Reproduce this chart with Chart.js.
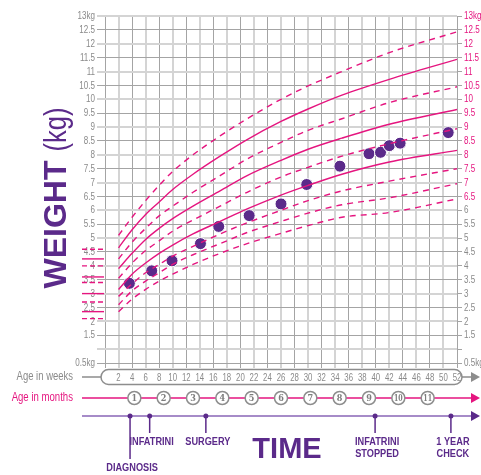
<!DOCTYPE html>
<html>
<head>
<meta charset="utf-8">
<script src="https://cdn.jsdelivr.net/npm/chart.js@4.4.0/dist/chart.umd.min.js"></script>
<style>
  html, body { margin: 0; padding: 0; background: #fff; }
  #wrap { width: 481px; height: 475px; }
</style>
</head>
<body>
<div id="wrap"><canvas id="growth-chart"></canvas></div>
<script>
// centile lines (kg), top line first
const centileWeeks = [2, 4, 6, 8, 10, 13, 17, 21, 26, 30, 35, 42, 52];
const centile1 = [5.1, 5.75, 6.35, 6.9, 7.4, 8.0, 8.68, 9.3, 10.0, 10.48, 11.0, 11.68, 12.43];
const centile2 = [4.65, 5.3, 5.85, 6.3, 6.75, 7.3, 7.95, 8.55, 9.2, 9.65, 10.15, 10.72, 11.44];
const centile3 = [4.25, 4.85, 5.35, 5.8, 6.15, 6.65, 7.25, 7.85, 8.45, 8.88, 9.3, 9.88, 10.45];
const centile4 = [3.9, 4.45, 4.95, 5.35, 5.7, 6.15, 6.7, 7.25, 7.8, 8.2, 8.6, 9.1, 9.63];
const centile5 = [3.55, 4.1, 4.55, 4.9, 5.25, 5.65, 6.15, 6.65, 7.2, 7.55, 7.95, 8.4, 8.94];
const centile6 = [3.15, 3.7, 4.1, 4.45, 4.75, 5.15, 5.6, 6.05, 6.55, 6.9, 7.3, 7.74, 8.16];
const centile7 = [2.9, 3.35, 3.75, 4.05, 4.35, 4.7, 5.15, 5.55, 6.0, 6.35, 6.7, 7.05, 7.5];
const centile8 = [2.6, 3.1, 3.45, 3.75, 4.05, 4.4, 4.8, 5.2, 5.6, 5.9, 6.2, 6.45, 6.96];
const centile9 = [2.35, 2.8, 3.15, 3.45, 3.7, 4.05, 4.45, 4.8, 5.17, 5.45, 5.75, 5.92, 6.41];
const centileDashed = [true, false, true, false, true, false, true, true, true];

// weighings
const measureWeeks = [3.6, 6.9, 9.9, 14.1, 16.8, 21.3, 26.0, 29.8, 34.7, 39.0, 40.7, 42.0, 43.6, 50.7];
const measureWeights = [3.37, 3.82, 4.18, 4.80, 5.42, 5.81, 6.23, 6.93, 7.59, 8.04, 8.09, 8.33, 8.42, 8.80];

// birth marks in the left margin (kg), and whether each is dashed
const birthWeights = [4.6, 4.25, 4.0, 3.6, 3.4, 3.0, 2.7, 2.35, 2.1];
const birthDashed = [true, false, true, false, true, false, true, false, true];

const monthLabels = ['1', '2', '3', '4', '5', '6', '7', '8', '9', '10', '11'];
const eventWeeks = [3.7, 6.6, 14.9, 39.9, 51.1];
const eventLabels = [['DIAGNOSIS'], ['INFATRINI'], ['SURGERY'], ['INFATRINI', 'STOPPED'], ['1 YEAR', 'CHECK']];

const PINK = '#e5157f';
const PURPLE = '#5b2a8a';
const LAVENDER = '#a68bc8';
const GREY_TXT = '#8a8a8a';
const GRID_DARK = '#a4a4a4';
const GRID_LIGHT = '#d4d4d4';
const SANS = "'Liberation Sans', Arial, sans-serif";

const centiles = [centile1, centile2, centile3, centile4, centile5, centile6, centile7, centile8, centile9];

const datasets = centiles.map((vals, i) => ({
    type: 'line',
    data: centileWeeks.map((w, j) => ({ x: w, y: vals[j] })),
    borderColor: PINK,
    borderWidth: 1.4,
    borderDash: centileDashed[i] ? [6, 5] : [],
    pointRadius: 0,
    cubicInterpolationMode: 'monotone',
    fill: false
}));

datasets.push({
    type: 'scatter',
    data: measureWeeks.map((w, j) => ({ x: w, y: measureWeights[j] })),
    backgroundColor: PURPLE,
    borderColor: '#ffffff',
    borderWidth: 1,
    pointRadius: 6
});

// no condensed face is installed, so squeeze a normal one horizontally
function narrowText(ctx, text, x, y, align, font, squeeze) {
    ctx.save();
    ctx.font = font;
    ctx.textAlign = align;
    ctx.textBaseline = 'middle';
    ctx.translate(x, y);
    ctx.scale(squeeze, 1);
    ctx.fillText(text, 0, 0);
    ctx.restore();
}

function arrowHead(ctx, x, y, color) {
    ctx.fillStyle = color;
    ctx.beginPath();
    ctx.moveTo(x, y - 5);
    ctx.lineTo(x + 9, y);
    ctx.lineTo(x, y + 5);
    ctx.closePath();
    ctx.fill();
}

function weightLabel(v) {
    if (v === 13) return '13kg';
    if (v === 0.5) return '0.5kg';
    if (v === 1) return '';
    return String(v);
}

const tickText = {
    id: 'tickText',
    afterDraw(chart) {
        const { ctx, scales: { x, y } } = chart;
        const font = '11.5px ' + SANS;
        ctx.fillStyle = GREY_TXT;
        y.ticks.forEach(t => {
            const py = y.getPixelForValue(t.value);
            const label = weightLabel(t.value);
            ctx.fillStyle = GREY_TXT;
            narrowText(ctx, label, 95, py, 'right', font, 0.7);
            ctx.fillStyle = t.value >= 6.5 ? PINK : GREY_TXT;
            narrowText(ctx, label, 464, py, 'left', font, 0.7);
        });
        ctx.fillStyle = GREY_TXT;
        x.ticks.forEach(t => {
            if (t.value === 0) return;
            narrowText(ctx, String(t.value), x.getPixelForValue(t.value), 378, 'center', font, 0.68);
        });
    }
};

const decorations = {
    id: 'decorations',
    afterDraw(chart) {
        const { ctx, scales: { x, y } } = chart;
        ctx.save();

        // birth marks on the left
        ctx.strokeStyle = PINK;
        ctx.lineWidth = 1.4;
        birthWeights.forEach((kg, i) => {
            const py = y.getPixelForValue(kg);
            ctx.setLineDash(birthDashed[i] ? [5, 3] : []);
            ctx.beginPath();
            ctx.moveTo(82, py);
            ctx.lineTo(104, py);
            ctx.stroke();
        });
        ctx.setLineDash([]);

        // WEIGHT (kg)
        ctx.save();
        ctx.translate(57, 198);
        ctx.rotate(-Math.PI / 2);
        ctx.fillStyle = PURPLE;
        ctx.textBaseline = 'middle';
        ctx.textAlign = 'left';
        const boldFont = 'bold 32px ' + SANS;
        const lightFont = '32px ' + SANS;
        ctx.font = boldFont;
        const w1 = ctx.measureText('WEIGHT ').width;
        ctx.font = lightFont;
        const w2 = ctx.measureText('(kg)').width * 0.8;
        const start = -(w1 + w2) / 2;
        ctx.font = boldFont;
        ctx.fillText('WEIGHT ', start, 0);
        ctx.translate(start + w1, 0);
        ctx.scale(0.8, 1);
        ctx.font = lightFont;
        ctx.fillText('(kg)', 0, 0);
        ctx.restore();

        const rowW = 377, rowM = 398, rowE = 416;
        const rowFont = '12px ' + SANS;

        // age in weeks row
        ctx.fillStyle = GREY_TXT;
        narrowText(ctx, 'Age in weeks', 73, rowW, 'right', rowFont, 0.79);
        ctx.strokeStyle = '#8d8d8d';
        ctx.lineWidth = 1.5;
        ctx.beginPath();
        ctx.moveTo(82, rowW);
        ctx.lineTo(101, rowW);
        ctx.stroke();
        ctx.beginPath();
        ctx.roundRect(101, rowW - 7.5, 361, 15, 7.5);
        ctx.stroke();
        ctx.beginPath();
        ctx.moveTo(462, rowW);
        ctx.lineTo(471, rowW);
        ctx.stroke();
        arrowHead(ctx, 471, rowW, '#8d8d8d');

        // age in months row
        ctx.fillStyle = PINK;
        narrowText(ctx, 'Age in months', 73, rowM, 'right', rowFont, 0.8);
        ctx.strokeStyle = PINK;
        ctx.lineWidth = 1.5;
        ctx.beginPath();
        ctx.moveTo(82, rowM);
        ctx.lineTo(472, rowM);
        ctx.stroke();
        arrowHead(ctx, 471, rowM, PINK);
        monthLabels.forEach((m, i) => {
            const px = x.getPixelForValue((i + 1) * 52 / 12);
            ctx.beginPath();
            ctx.arc(px, rowM, 6.5, 0, Math.PI * 2);
            ctx.fillStyle = '#ffffff';
            ctx.fill();
            ctx.strokeStyle = '#8d8d8d';
            ctx.lineWidth = 1.5;
            ctx.stroke();
            ctx.fillStyle = '#7d7d7d';
            narrowText(ctx, m, px, rowM + 0.5, 'center', "bold 9px 'DejaVu Serif', serif", m.length > 1 ? 0.7 : 0.9);
        });

        // events row
        ctx.strokeStyle = LAVENDER;
        ctx.lineWidth = 2;
        ctx.beginPath();
        ctx.moveTo(82, rowE);
        ctx.lineTo(472, rowE);
        ctx.stroke();
        arrowHead(ctx, 471, rowE, PURPLE);
        eventWeeks.forEach((wk, i) => {
            const px = x.getPixelForValue(wk);
            const drop = i === 0 ? 43 : 17;
            ctx.strokeStyle = PURPLE;
            ctx.lineWidth = 1.5;
            ctx.beginPath();
            ctx.moveTo(px, rowE);
            ctx.lineTo(px, rowE + drop);
            ctx.stroke();
            ctx.fillStyle = PURPLE;
            ctx.beginPath();
            ctx.arc(px, rowE, 2.5, 0, Math.PI * 2);
            ctx.fill();
            eventLabels[i].forEach((line, k) => {
                narrowText(ctx, line, px + 2, rowE + drop + 9 + k * 12, 'center', 'bold 11.5px ' + SANS, 0.8);
            });
        });

        ctx.fillStyle = PURPLE;
        narrowText(ctx, 'TIME', 287, 450, 'center', 'bold 29px ' + SANS, 1.0);

        ctx.restore();
    }
};

new Chart(document.getElementById('growth-chart'), {
    data: { datasets: datasets },
    options: {
        responsive: true,
        maintainAspectRatio: false,
        animation: false,
        layout: { padding: { top: 16, left: 0, right: 0, bottom: 0 } },
        plugins: { legend: { display: false }, tooltip: { enabled: false } },
        scales: {
            x: {
                type: 'linear',
                min: 0,
                max: 52,
                afterFit(scale) { scale.height = 112; },
                border: { display: false },
                grid: {
                    color: c => (c.tick.value % 4 === 0 ? GRID_DARK : GRID_LIGHT),
                    lineWidth: c => (c.tick.value % 4 === 0 ? 1 : 2),
                    tickLength: 5
                },
                ticks: {
                    stepSize: 2,
                    autoSkip: false,
                    maxRotation: 0,
                    color: 'rgba(0,0,0,0)'
                }
            },
            y: {
                type: 'linear',
                position: 'left',
                min: 0.5,
                max: 13,
                afterFit(scale) { scale.width = 105; },
                border: { display: false },
                grid: {
                    color: c => (Number.isInteger(c.tick.value) ? GRID_LIGHT : GRID_DARK),
                    lineWidth: c => (Number.isInteger(c.tick.value) ? 2 : 1),
                    tickLength: 8
                },
                ticks: {
                    stepSize: 0.5,
                    maxTicksLimit: 100,
                    autoSkip: false,
                    color: 'rgba(0,0,0,0)',
                    callback: weightLabel
                }
            },
            y2: {
                type: 'linear',
                position: 'right',
                min: 0.5,
                max: 13,
                afterFit(scale) { scale.width = 24; },
                border: { display: false },
                grid: {
                    drawOnChartArea: false,
                    color: GRID_DARK,
                    tickLength: 5
                },
                ticks: {
                    stepSize: 0.5,
                    maxTicksLimit: 100,
                    autoSkip: false,
                    color: 'rgba(0,0,0,0)',
                    callback: weightLabel
                }
            }
        }
    },
    plugins: [tickText, decorations]
});
</script>
</body>
</html>
